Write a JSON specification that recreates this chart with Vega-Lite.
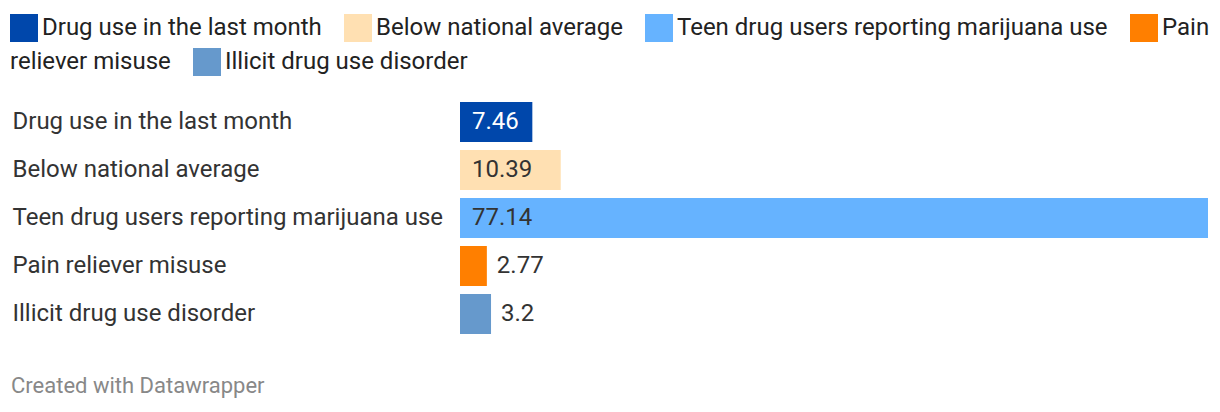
{
  "$schema": "https://vega.github.io/schema/vega-lite/v6.json",
  "autosize": {"type": "none"},
  "width": 748,
  "height": 240,
  "padding": {"left": 460, "top": 98, "right": 12, "bottom": 74},
  "background": "white",
  "config": {
    "view": {"stroke": null},
    "font": "Roboto"
  },
  "data": {
    "values": [
      {"category": "Drug use in the last month", "value": 7.46},
      {"category": "Below national average", "value": 10.39},
      {"category": "Teen drug users reporting marijuana use", "value": 77.14},
      {"category": "Pain reliever misuse", "value": 2.77},
      {"category": "Illicit drug use disorder", "value": 3.2}
    ]
  },
  "title": {
    "text": "Created with Datawrapper",
    "orient": "bottom",
    "anchor": "start",
    "frame": "group",
    "font": "Roboto",
    "fontSize": 22,
    "fontWeight": "normal",
    "color": "#888888",
    "offset": 38,
    "dx": -449
  },
  "encoding": {
    "y": {
      "field": "category",
      "type": "nominal",
      "sort": null,
      "scale": {"paddingInner": 0.1667, "paddingOuter": 0.0833},
      "axis": {
        "title": null,
        "domain": false,
        "ticks": false,
        "labelAlign": "left",
        "labelPadding": 448,
        "labelLimit": 600,
        "labelFont": "Roboto",
        "labelFontSize": 24,
        "labelColor": "#333333"
      }
    }
  },
  "layer": [
    {
      "mark": {"type": "bar"},
      "encoding": {
        "x": {
          "field": "value",
          "type": "quantitative",
          "scale": {"domain": [0, 77.14], "nice": false, "zero": true},
          "axis": null
        },
        "color": {
          "field": "category",
          "type": "nominal",
          "sort": null,
          "scale": {
            "domain": ["Drug use in the last month", "Below national average", "Teen drug users reporting marijuana use", "Pain reliever misuse", "Illicit drug use disorder"],
            "range": ["#0047ab", "#ffe0b2", "#66b3ff", "#ff7f00", "#6699cc"]
          },
          "legend": {
            "title": null,
            "orient": "none",
            "legendX": -450,
            "legendY": -84,
            "direction": "horizontal",
            "values": ["Drug use in the last month", "Below national average", "Teen drug users reporting marijuana use", "Pain reliever misuse"],
            "labelExpr": "datum.label === 'Pain reliever misuse' ? 'Pain' : datum.label",
            "symbolType": "square",
            "symbolSize": 784,
            "symbolStrokeWidth": 0,
            "symbolOpacity": 1,
            "labelFont": "Roboto",
            "labelFontSize": 24,
            "labelColor": "#222222",
            "labelOffset": 4,
            "labelLimit": 600,
            "columnPadding": 22
          }
        }
      }
    },
    {
      "mark": {"type": "bar", "opacity": 0},
      "encoding": {
        "x": {"field": "value", "type": "quantitative"},
        "color": {
          "field": "category",
          "type": "nominal",
          "sort": null,
          "scale": {
            "domain": ["reliever misuse", "Illicit drug use disorder"],
            "range": ["rgba(255,255,255,0)", "#6699cc"]
          },
          "legend": {
            "title": null,
            "orient": "none",
            "legendX": -482,
            "legendY": -50,
            "direction": "horizontal",
            "symbolType": "square",
            "symbolSize": 784,
            "symbolStrokeWidth": 0,
            "symbolOpacity": 1,
            "labelFont": "Roboto",
            "labelFontSize": 24,
            "labelColor": "#222222",
            "labelOffset": 4,
            "labelLimit": 600,
            "columnPadding": 22
          }
        }
      }
    },
    {
      "transform": [{"filter": "datum.value >= 5"}],
      "mark": {"type": "text", "align": "left", "baseline": "middle", "dx": 12, "font": "Roboto", "fontSize": 24},
      "encoding": {
        "x": {"datum": 0, "type": "quantitative"},
        "text": {"field": "value", "type": "quantitative", "format": ".4~"},
        "color": {
          "condition": {"test": "datum.category === 'Drug use in the last month'", "value": "#ffffff"},
          "value": "#333333"
        }
      }
    },
    {
      "transform": [{"filter": "datum.value < 5"}],
      "mark": {"type": "text", "align": "left", "baseline": "middle", "dx": 10, "font": "Roboto", "fontSize": 24, "color": "#333333"},
      "encoding": {
        "x": {"field": "value", "type": "quantitative"},
        "text": {"field": "value", "type": "quantitative", "format": ".4~"}
      }
    }
  ],
  "resolve": {"scale": {"color": "independent"}, "legend": {"color": "independent"}}
}
